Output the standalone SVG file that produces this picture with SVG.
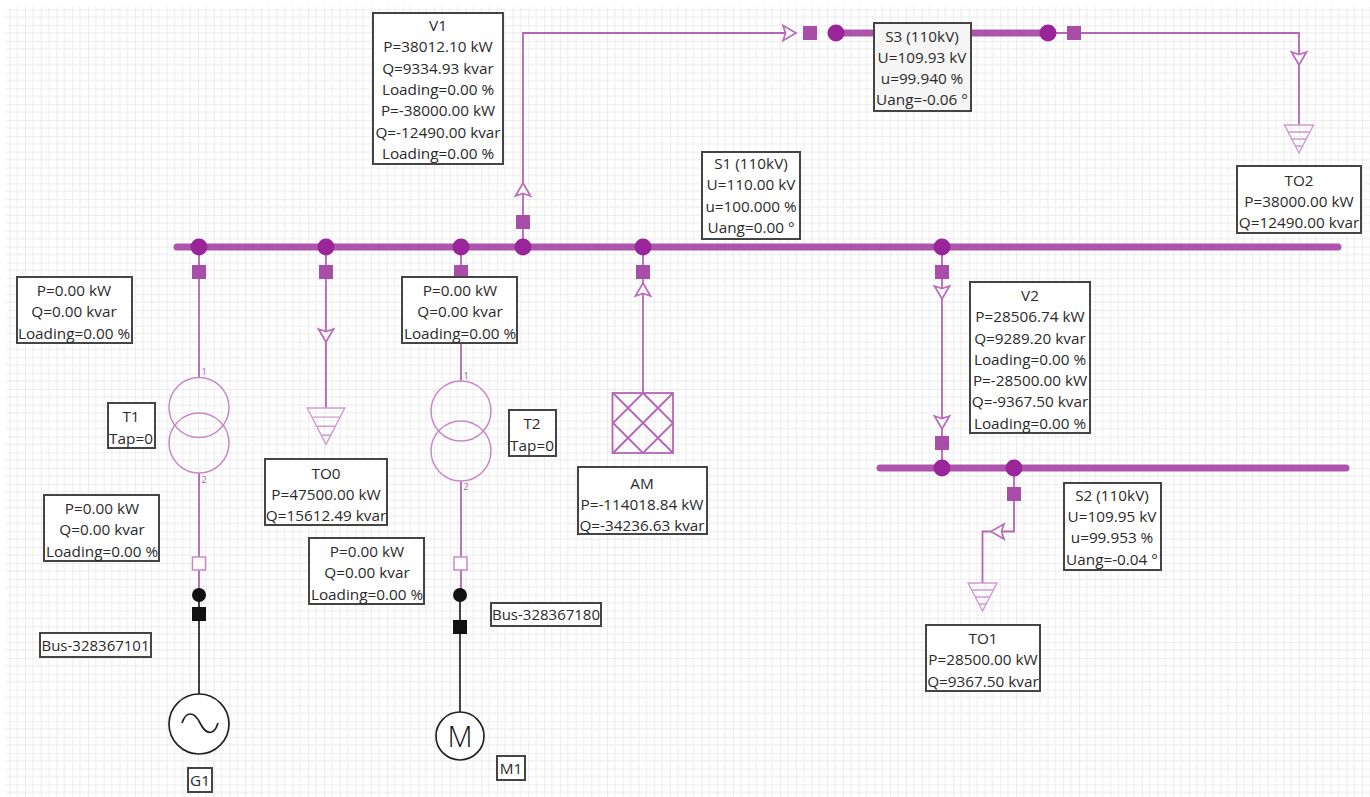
<svg xmlns="http://www.w3.org/2000/svg" width="1370" height="797" viewBox="0 0 1370 797">
<style>
text{font-family:"Open Sans","Noto Sans","Liberation Sans",sans-serif;font-size:15.3px;fill:#2a2a2a;text-anchor:middle}
text.bn{font-size:15px}
.box{fill:#fff;stroke:#444;stroke-width:2}
.g{fill:#f5f5f5}
.bus{stroke:#ad55ad;stroke-width:7;stroke-linecap:round;fill:none}
.ln{stroke:#b565b5;stroke-width:1.8;fill:none}
.ar{stroke:#bb70bb;stroke-width:1.8;fill:#fff}
.thin{stroke:#c78ac7;stroke-width:1.5;fill:none}
.lo{stroke:#cf9ccf;stroke-width:1.4;fill:none;vector-effect:non-scaling-stroke}
.blk{stroke:#222;stroke-width:1.7;fill:none}
.dot{fill:#9a249a}
.sq{fill:#a84ea8}
text.tiny{font-size:9px;fill:#a55fa5}
</style>
<defs>
<pattern id="grid" width="15.73" height="15.82" patternUnits="userSpaceOnUse" patternTransform="translate(9.3 9.3)"><path d="M7.86 0V15.82M0 7.91H15.73" fill="none" stroke="#f1f1f1" stroke-width="1.4"/><path d="M0 0V15.82M0 0H15.73" fill="none" stroke="#e8e8e8" stroke-width="1.6"/></pattern>
<g id="load"><path class="lo" d="M-14.5 0H14.5L0 28Z M-11 7H11M-7.3 14H7.3M-3.6 21H3.6"/></g>
<path id="arrow" class="ar" d="M-7.5 -13L0 0L7.5 -13L0 -10.5Z"/>
</defs>
<rect width="1370" height="797" fill="#fff"/>
<rect x="6" y="7" width="1364" height="790" fill="url(#grid)"/>
<g id="connectors">
<path class="ln" d="M199 247V378M199 473V590"/>
<path class="blk" d="M199 595V694"/>
<path class="ln" d="M326 247V408"/>
<path class="ln" d="M461 247V381M461 481V590"/>
<path class="blk" d="M460 595V712"/>
<path class="ln" d="M523 247V33H796M1048 33H1299V125"/>
<path class="ln" d="M643 247V393"/>
<path class="ln" d="M942 247V468"/>
<path class="ln" d="M1014 468V531.5H982.5V583"/>
<use href="#arrow" transform="translate(796 33) rotate(-90)"/>
<use href="#arrow" transform="translate(1299 65)"/>
<use href="#arrow" transform="translate(523 183) rotate(180)"/>
<use href="#arrow" transform="translate(643 283) rotate(180)"/>
<use href="#arrow" transform="translate(326 342)"/>
<use href="#arrow" transform="translate(942 299)"/>
<use href="#arrow" transform="translate(942 429)"/>
<use href="#arrow" transform="translate(991 531.5) rotate(90)"/>
</g>
<g id="bus-S1"><path class="bus" d="M177 247H1338"/><circle class="dot" cx="199" cy="247" r="8.5"/><circle class="dot" cx="326" cy="247" r="8.5"/><circle class="dot" cx="461" cy="247" r="8.5"/><circle class="dot" cx="523" cy="247" r="8.5"/><circle class="dot" cx="643" cy="247" r="8.5"/><circle class="dot" cx="942" cy="247" r="8.5"/>
<rect class="sq" x="192" y="265" width="14" height="14"/><rect class="sq" x="319" y="265" width="14" height="14"/><rect class="sq" x="454" y="265" width="14" height="14"/><rect class="sq" x="516" y="215" width="14" height="14"/><rect class="sq" x="636" y="265" width="14" height="14"/><rect class="sq" x="935" y="265" width="14" height="14"/>
<rect class="box" x="702" y="152" width="98" height="87"/><text x="751" y="169">S1 (110kV)</text><text x="751" y="190">U=110.00 kV</text><text x="751" y="212">u=100.000 %</text><text x="751" y="233">Uang=0.00 °</text></g>
<g id="bus-S2"><path class="bus" d="M880 468H1346"/><circle class="dot" cx="942" cy="468" r="8.5"/><circle class="dot" cx="1014" cy="468" r="8.5"/><rect class="sq" x="935" y="436" width="14" height="14"/><rect class="sq" x="1007" y="487" width="14" height="14"/>
<rect class="box" x="1064" y="483" width="97" height="87"/><text x="1112" y="501">S2 (110kV)</text><text x="1112" y="522">U=109.95 kV</text><text x="1112" y="543">u=99.953 %</text><text x="1112" y="565">Uang=-0.04 °</text></g>
<g id="bus-S3"><path class="bus" d="M836 33H1048"/><circle class="dot" cx="836" cy="33" r="8.5"/><circle class="dot" cx="1048" cy="33" r="8.5"/><rect class="sq" x="803" y="26" width="14" height="14"/><rect class="sq" x="1067" y="26" width="14" height="14"/>
<rect class="box g" x="874" y="23" width="97" height="88"/><text x="922" y="42">S3 (110kV)</text><text x="922" y="63">U=109.93 kV</text><text x="922" y="84">u=99.940 %</text><text x="922" y="105">Uang=-0.06 °</text></g>
<g id="V1"><rect class="box" x="373" y="13" width="130" height="151"/><text x="438" y="31">V1</text><text x="438" y="52">P=38012.10 kW</text><text x="438" y="74">Q=9334.93 kvar</text><text x="438" y="95">Loading=0.00 %</text><text x="438" y="116">P=-38000.00 kW</text><text x="438" y="138">Q=-12490.00 kvar</text><text x="438" y="159">Loading=0.00 %</text></g>
<g id="V2"><rect class="box" x="970" y="282" width="120" height="151"/><text x="1030" y="301">V2</text><text x="1030" y="322">P=28506.74 kW</text><text x="1030" y="344">Q=9289.20 kvar</text><text x="1030" y="365">Loading=0.00 %</text><text x="1030" y="386">P=-28500.00 kW</text><text x="1030" y="407">Q=-9367.50 kvar</text><text x="1030" y="429">Loading=0.00 %</text></g>
<g id="TO2"><use href="#load" x="1299" y="125"/><rect class="box" x="1237" y="166" width="124" height="67"/><text x="1299" y="186">TO2</text><text x="1299" y="207">P=38000.00 kW</text><text x="1299" y="228">Q=12490.00 kvar</text></g>
<g id="TO0"><use href="#load" transform="translate(326 408) scale(1.3)"/><rect class="box" x="265" y="459" width="122" height="66"/><text x="326" y="479">TO0</text><text x="326" y="500">P=47500.00 kW</text><text x="326" y="521">Q=15612.49 kvar</text></g>
<g id="TO1"><use href="#load" x="982.5" y="583"/><rect class="box" x="926" y="625" width="114" height="66"/><text x="983" y="644">TO1</text><text x="983" y="665">P=28500.00 kW</text><text x="983" y="687">Q=9367.50 kvar</text></g>
<g id="AM"><rect x="612.5" y="393" width="60.5" height="60" class="ln"/><path class="ln" d="M613 393L673 453M673 393L613 453M643 393L673 423L643 453L613 423Z"/><rect class="box" x="578" y="467" width="129" height="67"/><text x="642" y="489">AM</text><text x="642" y="510">P=-114018.84 kW</text><text x="642" y="531">Q=-34236.63 kvar</text></g>
<g id="T1"><circle class="thin" cx="199" cy="407.5" r="30"/><circle class="thin" cx="199" cy="443" r="30"/><text class="tiny" x="204" y="375">1</text><text class="tiny" x="204" y="483">2</text><rect class="box" x="108" y="403" width="47" height="45"/><text x="131" y="422">T1</text><text x="131" y="444">Tap=0</text></g>
<g id="T2"><circle class="thin" cx="461" cy="411" r="30"/><circle class="thin" cx="461" cy="451" r="30"/><text class="tiny" x="466" y="379">1</text><text class="tiny" x="466" y="490">2</text><rect class="box" x="509" y="410" width="47" height="46"/><text x="532" y="429">T2</text><text x="532" y="451">Tap=0</text></g>
<g id="L1"><rect class="box" x="17" y="277" width="115" height="66"/><text x="74" y="296">P=0.00 kW</text><text x="74" y="317">Q=0.00 kvar</text><text x="74" y="339">Loading=0.00 %</text></g>
<g id="L2"><rect class="box" x="402" y="277" width="115" height="66"/><text x="460" y="296">P=0.00 kW</text><text x="460" y="317">Q=0.00 kvar</text><text x="460" y="339">Loading=0.00 %</text></g>
<g id="L3"><rect class="box" x="44" y="495" width="115" height="66"/><text x="102" y="514">P=0.00 kW</text><text x="102" y="535">Q=0.00 kvar</text><text x="102" y="557">Loading=0.00 %</text></g>
<g id="L4"><rect class="box" x="309" y="538" width="115" height="66"/><text x="367" y="557">P=0.00 kW</text><text x="367" y="578">Q=0.00 kvar</text><text x="367" y="600">Loading=0.00 %</text></g>
<g id="B1"><rect x="192.500" y="557" width="13" height="13" fill="#fff" stroke="#c78ac7" stroke-width="1.5"/><circle cx="199" cy="595" r="7" fill="#111"/><rect x="192" y="607" width="14" height="14" fill="#111"/><rect class="box" x="40" y="633" width="111" height="24"/><text class="bn" x="95.500" y="651">Bus-328367101</text></g>
<g id="B2"><rect x="454" y="557" width="13" height="13" fill="#fff" stroke="#c78ac7" stroke-width="1.5"/><circle cx="460" cy="595" r="7" fill="#111"/><rect x="453" y="620" width="14" height="14" fill="#111"/><rect class="box" x="491" y="603" width="110" height="23"/><text class="bn" x="546" y="620">Bus-328367180</text></g>
<g id="G1"><circle cx="199" cy="724" r="30" fill="#fff" stroke="#222" stroke-width="1.7"/><path class="blk" d="M182 723C186 711 194 711 200 723S214 736 218 723"/><rect class="box" x="188" y="768" width="24" height="24"/><text x="200" y="786">G1</text></g>
<g id="M1"><circle cx="460" cy="736" r="24" fill="#fff" stroke="#222" stroke-width="1.7"/><text x="460" y="747" style="font-size:29px;font-weight:300;fill:#111">M</text><rect class="box" x="497" y="756" width="28" height="24"/><text x="511" y="774">M1</text></g>
</svg>
